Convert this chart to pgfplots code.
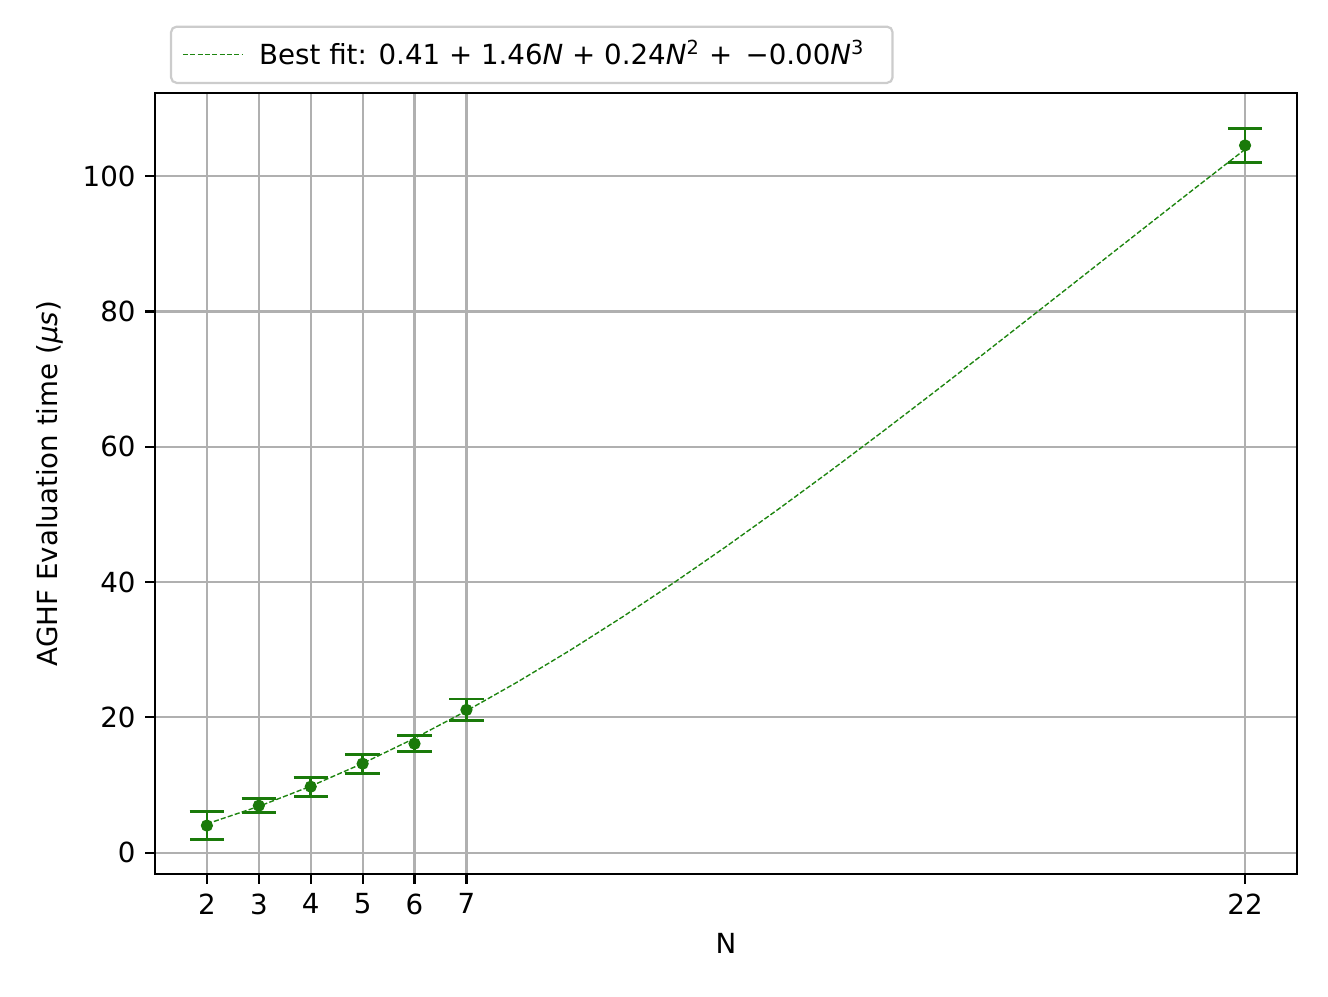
\documentclass[border=0pt]{standalone}
\usepackage{pgfplots}
\pgfplotsset{compat=1.18}
\usepackage{fontspec}
\setmainfont{DejaVu Sans}
\definecolor{ptgreen}{HTML}{1A7A0A}
\definecolor{fitgreen}{HTML}{1E8510}
\definecolor{gridgray}{HTML}{B0B0B0}

\begin{document}
\begin{tikzpicture}
\begin{axis}[
    scale only axis,
    width=14.5cm, height=9.92cm,
    xmin=1, xmax=23, ymin=-3.2, ymax=112.3,
    xtick={2,3,4,5,6,7,22},
    ytick={0,20,40,60,80,100},
    xtick pos=left, ytick pos=left,
    tick align=outside, major tick length=3.5pt,
    grid=major,
    major grid style={gridgray, line width=0.8pt},
    axis line style={black, line width=0.8pt},
    tick style={black, line width=0.8pt},
    xlabel={N}, ylabel={AGHF Evaluation time (\textit{μs})},
    /pgf/number format/assume math mode=true,
    legend style={at={(0.0131,1.0115)}, anchor=south west,
        draw=black!20, rounded corners=2pt, line width=0.8pt,
        inner xsep=4pt, inner ysep=3pt,
        nodes={inner xsep=6pt}},
    legend cell align=left,
    legend image code/.code={
        \draw[#1] (0cm,0cm) -- (0.75cm,0cm);
    },
]
\addplot[fitgreen, line width=0.5pt, dash pattern=on 1.85pt off 0.8pt] coordinates {
(2,4.256)(3,6.837)(4,9.821)(5,13.185)(6,16.903)(7,20.949)(8,25.300)
(9,29.928)(10,34.81)(11,39.920)(12,45.232)(13,50.723)(14,56.365)
(15,62.135)(16,68.007)(17,73.955)(18,79.956)(19,85.982)(20,92.01)
(21,98.014)(22,103.968)};
\addlegendentry{Best fit: 0.41 + 1.46\textit{N} + 0.24\textit{N}\textsuperscript{2} + \,−0.00\textit{N}\textsuperscript{3}}

\addplot[ptgreen, only marks, mark=*, mark size=2pt,
    forget plot,
    error bars/.cd, y dir=both, y explicit,
    error bar style={line width=1pt, ptgreen},
    error mark options={ptgreen, line width=1pt, mark size=6.2pt, rotate=90}]
coordinates {
(2,4.0) +- (0,2.07)
(3,6.94) +- (0,1.03)
(4,9.75) +- (0,1.4)
(5,13.15) +- (0,1.4)
(6,16.1) +- (0,1.2)
(7,21.1) +- (0,1.6)
(22,104.55) +- (0,2.52)
};
\end{axis}
\path[use as bounding box] (-1.968cm,-1.549cm) rectangle (14.894cm,11.101cm);
\end{tikzpicture}
\end{document}
